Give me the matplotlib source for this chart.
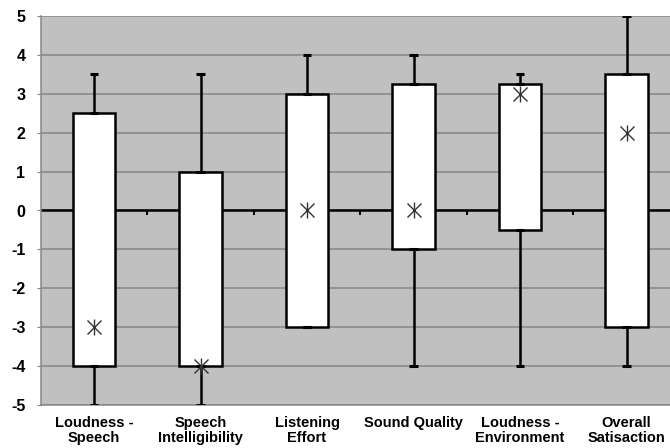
import numpy as np
import matplotlib
matplotlib.use('Agg')
import matplotlib.pyplot as plt

plt.rcParams['font.family'] = ['Liberation Sans', 'DejaVu Sans']
plt.rcParams['axes.unicode_minus'] = False

categories = ['Loudness -\nSpeech', 'Speech\nIntelligibility', 'Listening\nEffort',
              'Sound Quality', 'Loudness -\nEnvironment', 'Overall\nSatisaction']
whisker_low = [-5, -5, -3, -4, -4, -4]
box_low = [-4, -4, -3, -1, -0.5, -3]
box_high = [2.5, 1, 3, 3.25, 3.25, 3.5]
whisker_high = [3.5, 3.5, 4, 4, 3.5, 5]
median = [-3, -4, 0, 0, 3, 2]

x = np.arange(len(categories))

fig = plt.figure(figsize=(6.7, 4.48), dpi=100)
ax = fig.add_axes([40.75 / 670, 1 - 405 / 448, 639 / 670, 389 / 448])
ax.set_facecolor('#c0c0c0')

ax.set_xlim(-0.5, len(categories) - 0.5)
ax.set_ylim(-5, 5)
ax.set_yticks(range(-5, 6))
ax.yaxis.grid(True, color='#868686', linewidth=1.1, zorder=0)
ax.set_axisbelow(True)

# zero line with small ticks between categories
ax.axhline(0, color='black', linewidth=1.8, zorder=1)
bounds = x[:-1] + 0.5
ax.vlines(bounds, -0.12, 0, color='black', linewidth=1.5, zorder=1)

ax.bar(x, np.array(box_high) - np.array(box_low), bottom=box_low, width=0.4,
       color='white', edgecolor='black', linewidth=1.8, zorder=2)
ax.vlines(x, box_high, whisker_high, color='black', linewidth=1.8, zorder=3)
ax.vlines(x, whisker_low, box_low, color='black', linewidth=1.8, zorder=3)
for vals in (whisker_high, whisker_low, box_high, box_low):
    ax.hlines(vals, x - 0.04, x + 0.04, color='black', linewidth=2.2, zorder=3)

ax.plot(x, median, linestyle='none', marker='x', markersize=10, color='#333333',
        markeredgewidth=1.0, zorder=4)
ax.plot(x, median, linestyle='none', marker='|', markersize=12, color='#333333',
        markeredgewidth=1.0, zorder=4)

ax.set_xticks(x)
ax.set_xticklabels(categories, fontsize=10.5, fontweight='bold', linespacing=1.1)
ax.tick_params(axis='x', length=0, pad=8)
ax.tick_params(axis='y', length=3, color='#868686', pad=8, labelsize=11.5)
for lab in ax.get_yticklabels():
    lab.set_fontweight('bold')

for side in ['top', 'right']:
    ax.spines[side].set_visible(False)
for side in ['left', 'bottom']:
    ax.spines[side].set_color('#868686')
    ax.spines[side].set_linewidth(1.1)

fig.savefig('out.png', dpi=100)
